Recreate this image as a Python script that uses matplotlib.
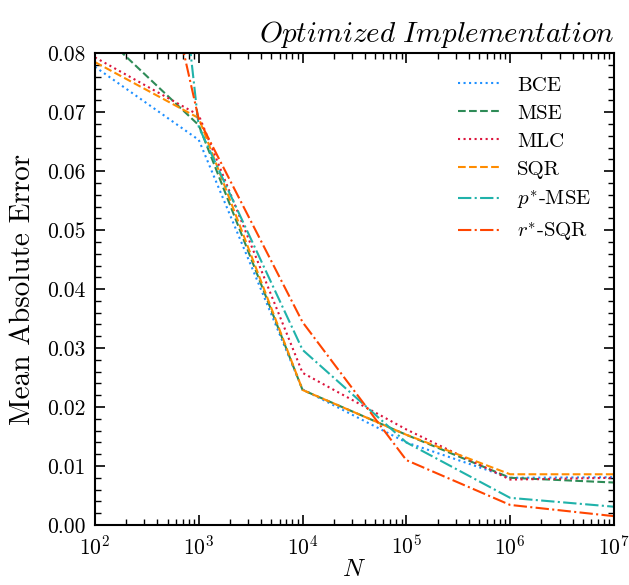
import matplotlib
matplotlib.use('Agg')
import matplotlib.pyplot as plt
from matplotlib.ticker import MultipleLocator

plt.rcParams['font.family'] = 'serif'
plt.rcParams['font.serif'] = ['cmr10', 'DejaVu Serif']
plt.rcParams['mathtext.fontset'] = 'cm'
plt.rcParams['axes.formatter.use_mathtext'] = True

N = [1e2, 1e3, 1e4, 1e5, 1e6, 1e7]

bce = [0.0777, 0.0653, 0.0230, 0.0140, 0.0080, 0.0081]
mse = [0.0844, 0.0678, 0.0229, 0.0153, 0.0080, 0.0072]
mlc = [0.0793, 0.0695, 0.0258, 0.0162, 0.0077, 0.0080]
sqr = [0.0785, 0.0690, 0.0229, 0.0153, 0.0086, 0.0086]
p_mse = [0.2270, 0.0675, 0.0297, 0.0140, 0.0046, 0.0031]
r_sqr = [0.1470, 0.0688, 0.0344, 0.0110, 0.0034, 0.0015]

labels = ['BCE', 'MSE', 'MLC', 'SQR', r'$p^{*}$-MSE', r'$r^{*}$-SQR']
colors = ['#1E90FF', '#2E8B57', '#DC143C', '#FF8C00', '#20B2AA', '#FF4500']
styles = [':', '--', ':', '--', '-.', '-.']

fig = plt.figure(figsize=(6.29, 5.85), dpi=100)
ax = fig.add_axes([0.151, 0.1026, 0.825, 0.8064])

for ys, lab, c, ls in zip([bce, mse, mlc, sqr, p_mse, r_sqr], labels, colors, styles):
    ax.plot(N, ys, ls, color=c, label=lab, lw=1.5)

ax.set_xscale('log')
ax.set_xlim(1e2, 1e7)
ax.set_ylim(0, 0.08)
ax.yaxis.set_major_locator(MultipleLocator(0.01))
ax.yaxis.set_minor_locator(MultipleLocator(0.002))
ax.yaxis.set_major_formatter(matplotlib.ticker.FormatStrFormatter('%.2f'))
ax.tick_params(which='both', direction='in', top=True, right=True, labelsize=15.5)
ax.tick_params(which='major', length=7, width=1.2, pad=7)
ax.tick_params(which='minor', length=4, width=1)
for s in ax.spines.values():
    s.set_linewidth(1.5)

ax.set_xlabel(r'$N$', fontsize=18, labelpad=0)
ax.set_ylabel('Mean Absolute Error', fontsize=21, labelpad=8)
ax.set_title(r'$\mathit{Optimized\ Implementation}$', fontsize=21, loc='right', pad=8)

ax.legend(loc='upper right', frameon=False, fontsize=15, handlelength=2.0,
          borderaxespad=0.7, labelspacing=0.45)

fig.savefig('out.png', dpi=100)
